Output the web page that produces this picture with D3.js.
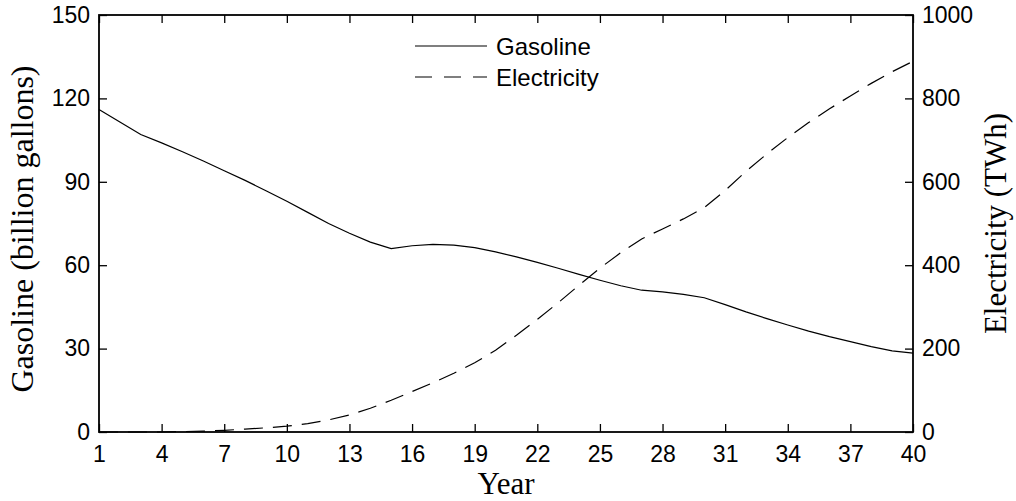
<!DOCTYPE html>
<html>
<head>
<meta charset="utf-8">
<script src="https://cdn.jsdelivr.net/npm/d3@7"></script>
<style>
  html, body { margin: 0; padding: 0; background: #fff; }
  svg { display: block; }
  .tick text { font-family: "Liberation Sans", Arial, Helvetica, sans-serif; font-size: 23px; fill: #000; }
  .axis-title { font-family: "Liberation Serif", "Times New Roman", serif; font-size: 31px; fill: #000; }
  .legend text { font-family: "Liberation Sans", Arial, Helvetica, sans-serif; font-size: 24px; fill: #000; }
</style>
</head>
<body>
<svg id="chart" width="1016" height="501"></svg>
<script>
// Projected annual fuel demand, years 1-40
const years = d3.range(1, 41);
const gasoline = [116, 111.5, 107, 104, 100.8, 97.5, 94, 90.5, 86.8, 83,
                  79, 75, 71.5, 68.3, 66, 67, 67.5, 67.2, 66.3, 64.8,
                  63, 61, 58.9, 56.7, 54.6, 52.6, 51, 50.4, 49.5, 48.3,
                  45.8, 43.2, 40.8, 38.5, 36.3, 34.3, 32.5, 30.7, 29.2, 28.4];
const electricity = [0, 0, 0, 0, 1, 2, 4, 7, 10, 14,
                     20, 29, 41, 57, 76, 97, 118, 141, 166, 196,
                     232, 270, 310, 352, 393, 430, 463, 487, 511, 538,
                     579, 625, 667, 706, 742, 775, 806, 836, 864, 889];
const xTicks = [1, 4, 7, 10, 13, 16, 19, 22, 25, 28, 31, 34, 37, 40];
const gasTicks = [0, 30, 60, 90, 120, 150];
const elecTicks = [0, 200, 400, 600, 800, 1000];
const seriesNames = ["Gasoline", "Electricity"];

const margin = { left: 99, right: 103, top: 15, bottom: 69 };
const W = 1016, H = 501;
const iw = W - margin.left - margin.right;
const ih = H - margin.top - margin.bottom;

const svg = d3.select("#chart");
const g = svg.append("g").attr("transform", `translate(${margin.left},${margin.top})`);

const x = d3.scaleLinear().domain([1, 40]).range([0, iw]);
const yG = d3.scaleLinear().domain([0, 150]).range([ih, 0]);
const yE = d3.scaleLinear().domain([0, 1000]).range([ih, 0]);

const tickLen = 8;

// bottom axis (labels) and top axis (ticks only), ticks pointing inward
const xb = g.append("g").attr("transform", `translate(0,${ih})`)
  .call(d3.axisBottom(x).tickValues(xTicks).tickSize(-tickLen).tickPadding(14).tickFormat(d3.format("d")));
const xt = g.append("g")
  .call(d3.axisTop(x).tickValues(xTicks).tickSize(-tickLen).tickFormat(""));
const yl = g.append("g")
  .call(d3.axisLeft(yG).tickValues(gasTicks).tickSize(-tickLen).tickPadding(9).tickFormat(d3.format("d")));
const yr = g.append("g").attr("transform", `translate(${iw},0)`)
  .call(d3.axisRight(yE).tickValues(elecTicks).tickSize(-tickLen).tickPadding(9).tickFormat(d3.format("d")));

[xb, xt, yl, yr].forEach(a => {
  a.select(".domain").remove();
  a.selectAll(".tick line").attr("stroke", "#000").attr("stroke-width", 1.3);
});

// box frame
g.append("rect").attr("x", 0).attr("y", 0).attr("width", iw).attr("height", ih)
  .attr("fill", "none").attr("stroke", "#000").attr("stroke-width", 1.8);

// series lines
const lineG = d3.line().x((d, i) => x(years[i])).y(d => yG(d));
const lineE = d3.line().x((d, i) => x(years[i])).y(d => yE(d));

g.append("path").datum(gasoline).attr("d", lineG)
  .attr("fill", "none").attr("stroke", "#000").attr("stroke-width", 1.2);
g.append("path").datum(electricity).attr("d", lineE)
  .attr("fill", "none").attr("stroke", "#000").attr("stroke-width", 1.2)
  .attr("stroke-dasharray", "19,10");

// legend
const legend = g.append("g").attr("class", "legend").attr("transform", "translate(316,31)");
seriesNames.forEach((name, i) => {
  const row = legend.append("g").attr("transform", `translate(0,${i * 31})`);
  row.append("line").attr("x1", 0).attr("x2", 72).attr("y1", 0).attr("y2", 0)
    .attr("stroke", "#000").attr("stroke-width", 1.2)
    .attr("stroke-dasharray", i === 1 ? "17,12" : null);
  row.append("text").attr("x", 81).attr("y", 9).text(name);
});

// axis titles
svg.append("text").attr("class", "axis-title")
  .attr("text-anchor", "middle")
  .attr("x", margin.left + iw / 2).attr("y", 494)
  .text("Year");
svg.append("text").attr("class", "axis-title")
  .attr("text-anchor", "middle")
  .attr("transform", `translate(33,229) rotate(-90)`)
  .style("font-size", "32px")
  .text("Gasoline (billion gallons)");
svg.append("text").attr("class", "axis-title")
  .attr("text-anchor", "middle")
  .attr("transform", `translate(1006,${margin.top + ih / 2}) rotate(-90)`)
  .text("Electricity (TWh)");
</script>
</body>
</html>
